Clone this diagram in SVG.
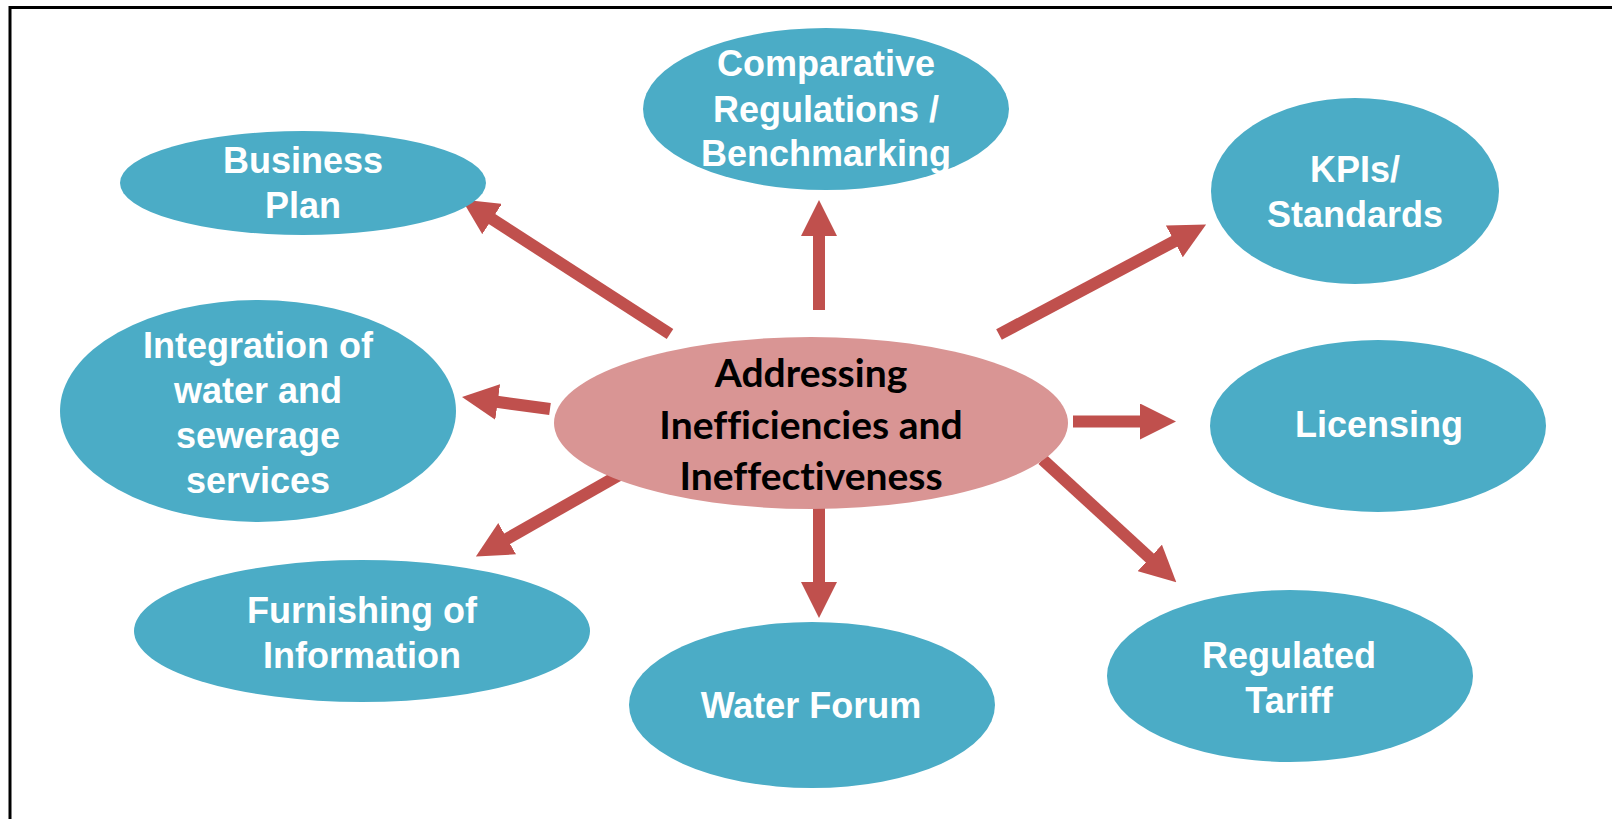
<svg xmlns="http://www.w3.org/2000/svg" width="1612" height="819" viewBox="0 0 1612 819">
<style>
.n{fill:#4BACC6}
.c{fill:#D99594}
.t{font-family:"Liberation Sans",Arial,sans-serif;font-weight:bold;font-size:36px;fill:#FFFFFF;text-anchor:middle}
.ct{font-family:Lato,"Liberation Sans",sans-serif;font-weight:bold;font-size:39px;fill:#000000;text-anchor:middle;font-variant-ligatures:none}
.a{stroke:#C0504D;stroke-width:12;fill:none;marker-end:url(#ah)}
</style>
<defs>
<marker id="ah" markerUnits="userSpaceOnUse" markerWidth="36" markerHeight="36" refX="1" refY="18" orient="auto">
<path d="M0,0 L36,18 L0,36 z" fill="#C0504D"/>
</marker>
</defs>
<rect width="1612" height="819" fill="#FFFFFF"/>
<path d="M10,819 V7.5 H1612" fill="none" stroke="#000000" stroke-width="3"/>
<g id="connectors">
<line class="a" x1="670" y1="334" x2="491.2" y2="218.5"/>
<line class="a" x1="819" y1="310" x2="819" y2="235"/>
<line class="a" x1="999" y1="334.5" x2="1175.2" y2="240.9"/>
<line class="a" x1="1073" y1="421.5" x2="1141" y2="421.5"/>
<line class="a" x1="1042.5" y1="459.5" x2="1150.5" y2="558.6"/>
<line class="a" x1="819" y1="508" x2="819" y2="583"/>
<line class="a" x1="624.5" y1="472" x2="506.3" y2="539.2"/>
<line class="a" x1="550" y1="409" x2="496.7" y2="401.8"/>
</g>
<g id="center">
<ellipse class="c" cx="811" cy="423" rx="257" ry="86"/>
<text class="ct" x="811" y="387">Addressing</text>
<text class="ct" x="811" y="439">Inefficiencies and</text>
<text class="ct" x="811" y="490">Ineffectiveness</text>
</g>
<g id="business-plan">
<ellipse class="n" cx="303" cy="183" rx="183" ry="52"/>
<text class="t" x="303" y="173">Business</text>
<text class="t" x="303" y="218">Plan</text>
</g>
<g id="comparative">
<ellipse class="n" cx="826" cy="109" rx="183" ry="81"/>
<text class="t" x="826" y="76">Comparative</text>
<text class="t" x="826" y="122">Regulations /</text>
<text class="t" x="826" y="166">Benchmarking</text>
</g>
<g id="kpis">
<ellipse class="n" cx="1355" cy="191" rx="144" ry="93"/>
<text class="t" x="1355" y="182">KPIs/</text>
<text class="t" x="1355" y="227">Standards</text>
</g>
<g id="integration">
<ellipse class="n" cx="258" cy="411" rx="198" ry="111"/>
<text class="t" x="258" y="358">Integration of</text>
<text class="t" x="258" y="403">water and</text>
<text class="t" x="258" y="448">sewerage</text>
<text class="t" x="258" y="493">services</text>
</g>
<g id="licensing">
<ellipse class="n" cx="1378" cy="426" rx="168" ry="86"/>
<text class="t" x="1379" y="437">Licensing</text>
</g>
<g id="furnishing">
<ellipse class="n" cx="362" cy="631" rx="228" ry="71"/>
<text class="t" x="362" y="623">Furnishing of</text>
<text class="t" x="362" y="668">Information</text>
</g>
<g id="water-forum">
<ellipse class="n" cx="812" cy="705" rx="183" ry="83"/>
<text class="t" x="811" y="718">Water Forum</text>
</g>
<g id="regulated-tariff">
<ellipse class="n" cx="1290" cy="676" rx="183" ry="86"/>
<text class="t" x="1289" y="668">Regulated</text>
<text class="t" x="1289" y="713">Tariff</text>
</g>
</svg>
